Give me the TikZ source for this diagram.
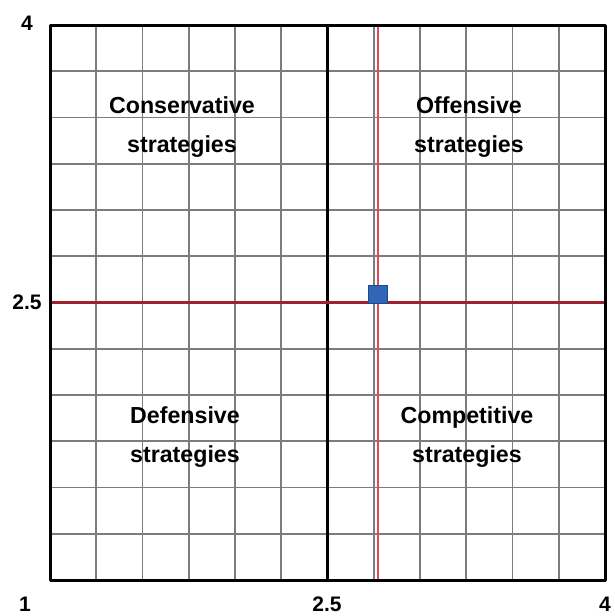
\documentclass[tikz,border=0pt]{standalone}
\usepackage{fontspec}
\setmainfont{Liberation Sans}
\definecolor{gridgray}{HTML}{7C7C7C}
\definecolor{darkred}{HTML}{A0222E}
\definecolor{lightred}{HTML}{E04858}
\definecolor{markblue}{HTML}{2F66B8}
\definecolor{markedge}{HTML}{1E4A8A}
\tikzset{
  gridline/.style={gridgray, line width=1.8pt},
  frameline/.style={black, line width=3pt},
  quadlabel/.style={font=\fontsize{23.2}{39}\selectfont\bfseries, align=center, inner sep=0pt},
  axlabel/.style={font=\fontsize{21}{21}\selectfont\bfseries, inner sep=0pt},
}
\begin{document}
\begin{tikzpicture}[x=1pt,y=-1pt]
\useasboundingbox (0,0) rectangle (614,616);
\fill[white] (0,0) rectangle (614,616);
% grid
\foreach \i in {1,...,11} {
  \draw[gridline] ({50+\i*46.25},25) -- ({50+\i*46.25},580);
  \draw[gridline] (50,{25+\i*46.25}) -- (605,{25+\i*46.25});
}
% center vertical
\draw[black, line width=3pt] (327.5,25) -- (327.5,580);
% red lines
\draw[darkred, line width=2.2pt] (50,302.5) -- (605,302.5);
\draw[lightred, line width=1.6pt] (378,25) -- (378,580);
% frame
\draw[frameline, line join=round] (50,25) rectangle (605,580);
% marker
\node[draw=markedge, fill=markblue, line width=0.8pt, minimum width=19pt, minimum height=18pt, inner sep=0pt] (marker) at (378,294) {};
% quadrant labels
\node[quadlabel] (cons) at (182,127) {Conservative\\strategies};
\node[quadlabel] (off) at (469,127) {Offensive\\strategies};
\node[quadlabel] (def) at (185,437) {Defensive\\strategies};
\node[quadlabel] (comp) at (467,437) {Competitive\\strategies};
% axis labels
\node[axlabel] (ytop) at (27,23) {4};
\node[axlabel] (ymid) at (27,302) {2.5};
\node[axlabel] (xmin) at (25,604) {1};
\node[axlabel] (xmid) at (327,604) {2.5};
\node[axlabel] (xmax) at (605,604) {4};
\end{tikzpicture}
\end{document}
